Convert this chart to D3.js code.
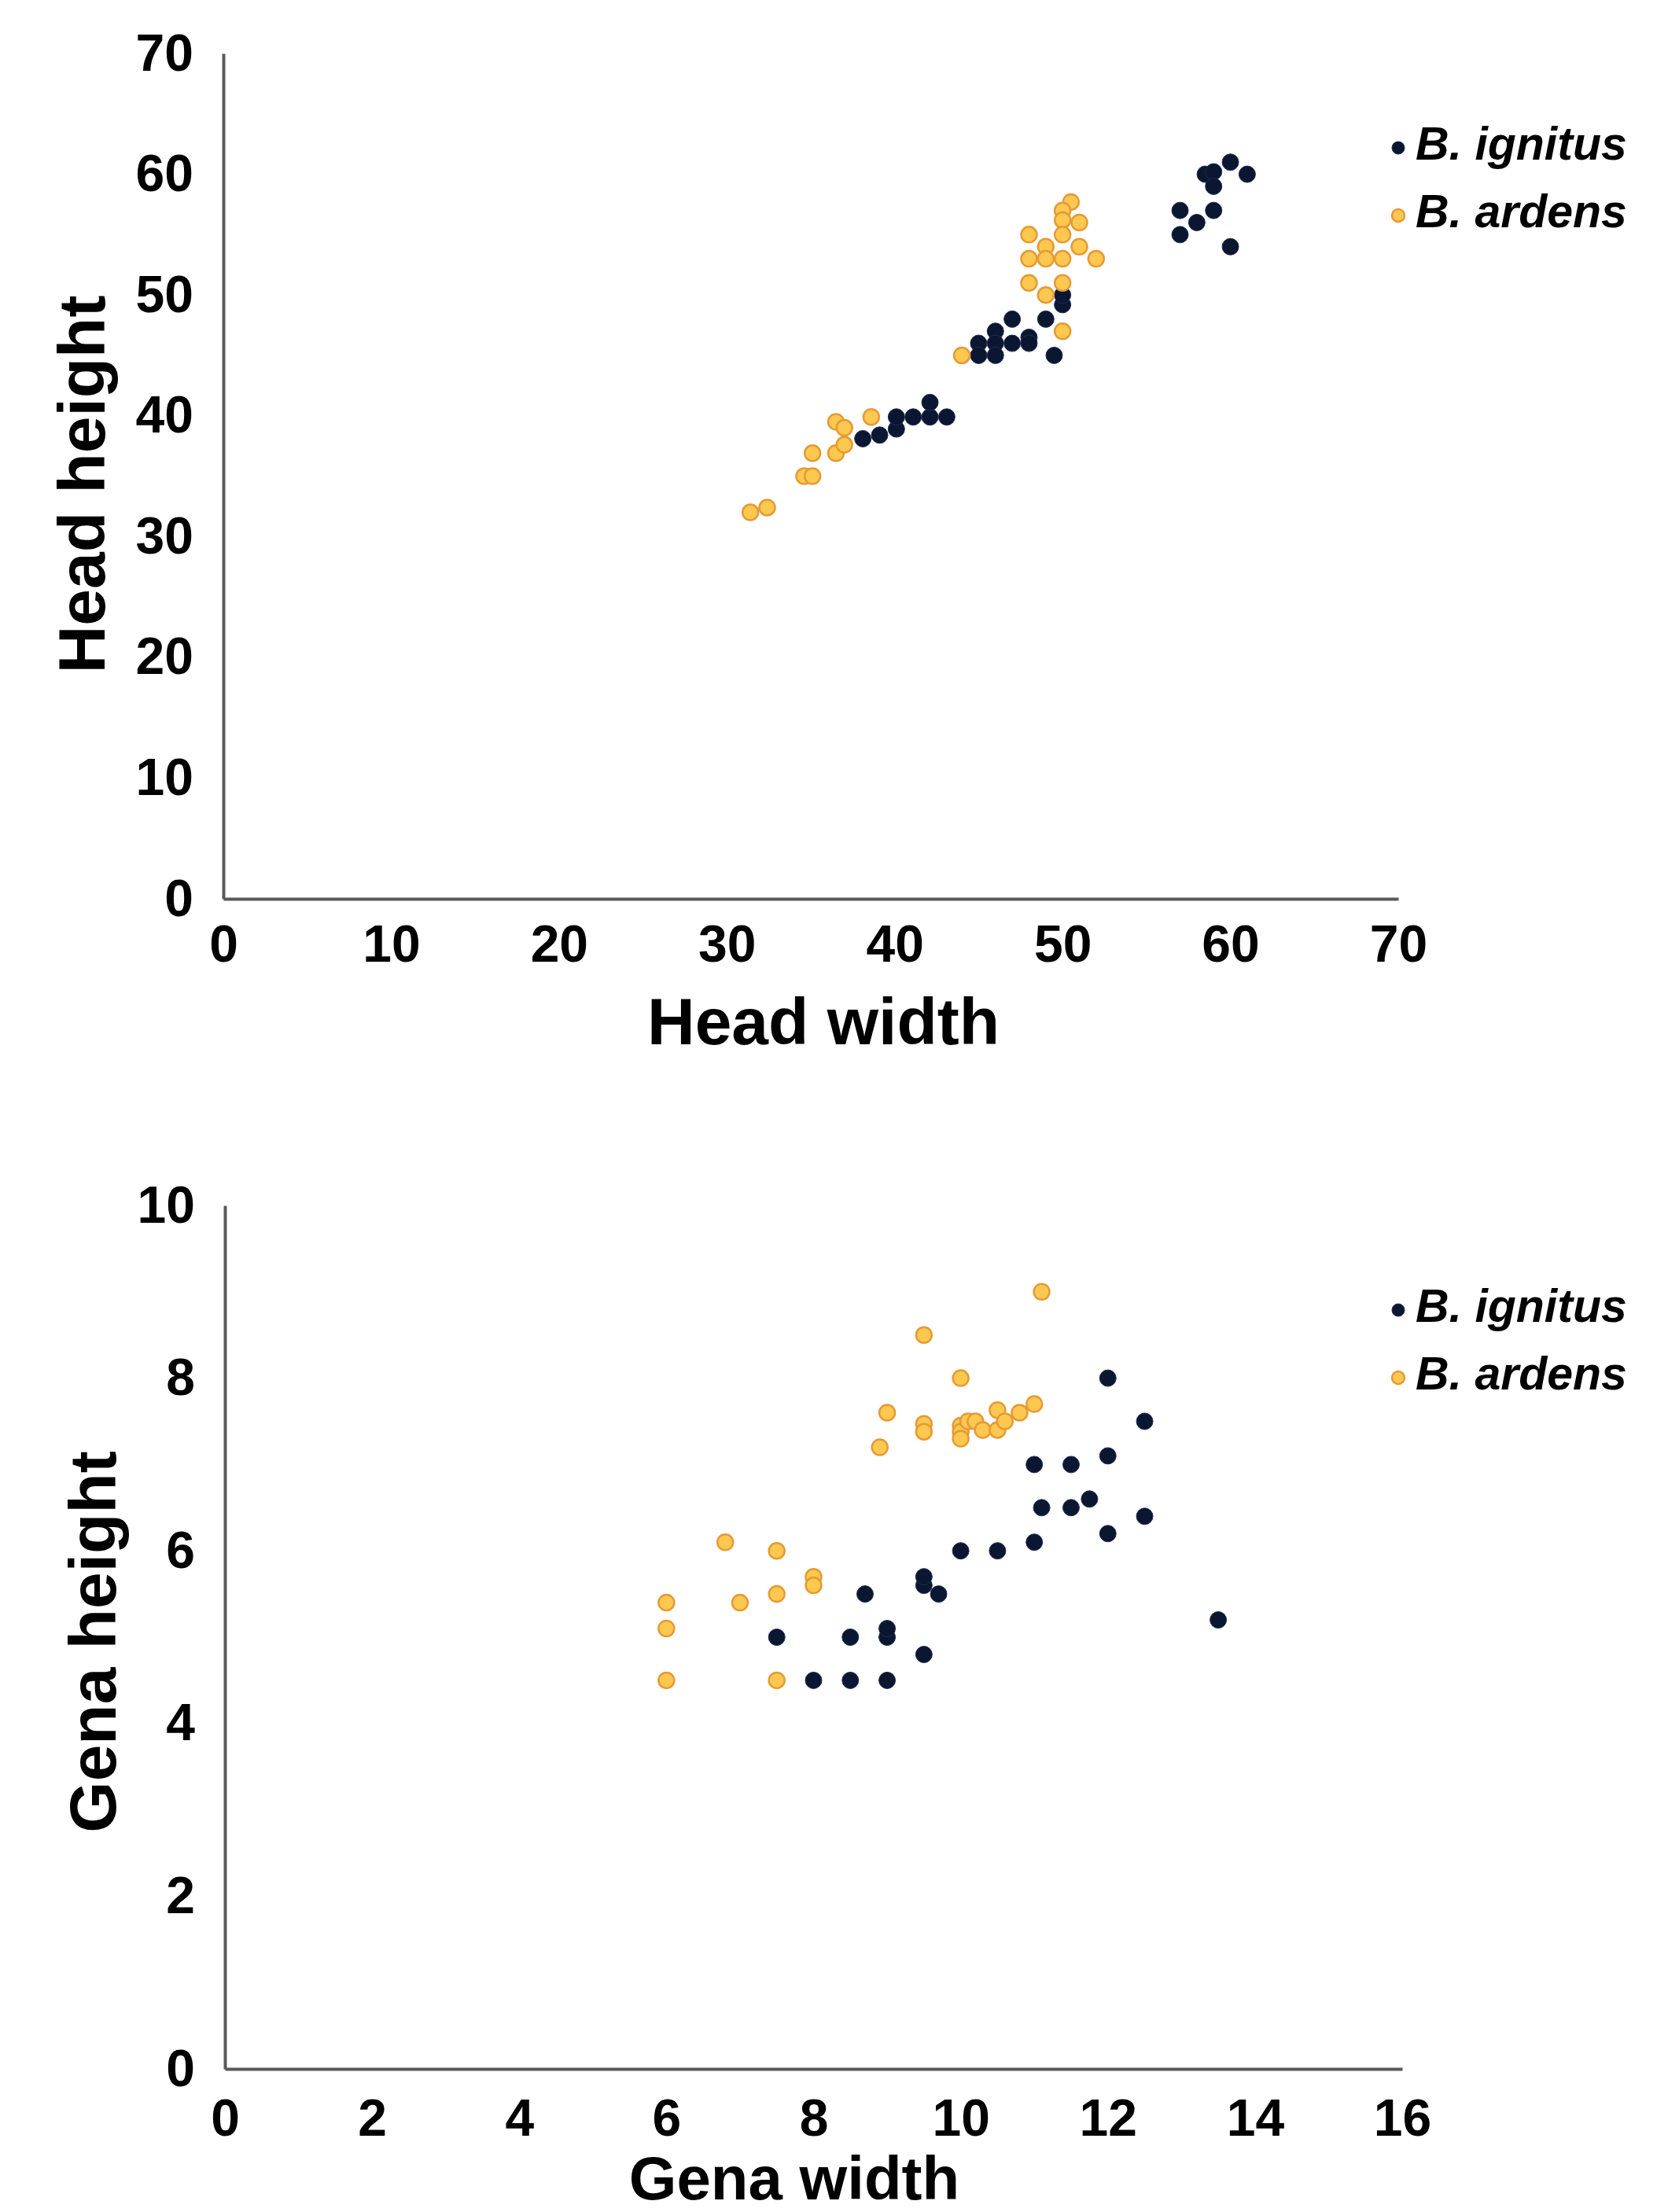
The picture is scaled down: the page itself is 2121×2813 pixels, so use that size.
<!DOCTYPE html>
<html>
<head>
<meta charset="utf-8">
<script src="https://cdn.jsdelivr.net/npm/d3@7"></script>
<style>
  body { margin: 0; background: #fff; }
  text { font-family: "Liberation Sans", Arial, sans-serif; font-weight: bold; fill: #000; }
</style>
</head>
<body>
<script>
    // head measurements [width, height]
    const headIgnitus = [
        [38.1, 38.1], [39.1, 38.4], [40.1, 38.9], [40.1, 39.9], [41.1, 39.9], [42.1, 39.9], [42.1, 41.1], [43.1, 39.9],
        [45, 46], [45, 45], [46, 47], [46, 46], [46, 45], [47, 48], [47, 46], [48, 46.5], [48, 46],
        [49, 48], [50, 49.2], [50, 50], [49.5, 45],
        [60, 61], [61, 60], [58.5, 60], [59, 60.2], [59, 59], [57, 57], [58, 56], [59, 57], [57, 55], [60, 54]
    ];
    const headArdens = [
        [31.4, 32], [32.4, 32.4], [34.6, 35], [35.1, 35], [35.1, 36.9], [36.5, 36.9], [37, 37.6], [36.5, 39.5],
        [37, 39], [38.6, 39.9],
        [44, 45], [48, 55], [48, 53], [48, 51], [49, 54], [49, 53], [49, 50], [50.5, 57.7], [50, 57],
        [50, 56.2], [51, 56], [50, 55], [50, 53], [51, 54], [52, 53], [50, 51], [50, 47]
    ];

    // gena measurements [width, height]
    const genaIgnitus = [
        [7.5, 5], [8, 4.5], [8.5, 4.5], [8.5, 5], [8.7, 5.5], [9, 4.5], [9, 5], [9, 5.1], [9.5, 4.8],
        [9.5, 5.6], [9.5, 5.7], [9.7, 5.5], [10, 6], [10.5, 6], [11, 6.1], [11, 7], [11.1, 6.5],
        [11.5, 7], [11.5, 6.5], [11.75, 6.6], [12, 6.2], [12, 7.1], [12, 8], [12.5, 7.5], [12.5, 6.4], [13.5, 5.2]
    ];
    const genaArdens = [
        [6, 5.4], [6, 5.1], [6, 4.5], [6.8, 6.1], [7, 5.4], [7.5, 6], [7.5, 5.5], [7.5, 4.5], [8, 5.7], [8, 5.6],
        [8.9, 7.2], [9, 7.6], [9.5, 8.5], [9.5, 7.47], [9.5, 7.38], [10, 8], [11.1, 9],
        [10, 7.45], [10, 7.38], [10, 7.3], [10.1, 7.5], [10.2, 7.5], [10.3, 7.4], [10.5, 7.63], [10.5, 7.4],
        [10.6, 7.5], [10.8, 7.6], [11, 7.7]
    ];

    const headTicks = [0, 10, 20, 30, 40, 50, 60, 70];
    const genaXTicks = [0, 2, 4, 6, 8, 10, 12, 14, 16];
    const genaYTicks = [0, 2, 4, 6, 8, 10];
    const species = ["B. ignitus", "B. ardens"];

    const svg = d3.select('body').append('svg')
        .attr('width', 2121)
        .attr('height', 2813);

    function drawPanel(cfg) {
        const xScale = d3.scaleLinear().domain(cfg.xDomain).range(cfg.xRange);
        const yScale = d3.scaleLinear().domain(cfg.yDomain).range(cfg.yRange);

        const g = svg.append('g');

        const xAxis = d3.axisBottom(xScale).tickValues(cfg.xTicks).tickSize(0).tickPadding(cfg.xPad);
        const yAxis = d3.axisLeft(yScale).tickValues(cfg.yTicks).tickSize(0).tickPadding(38);

        const xg = g.append('g')
            .attr('transform', `translate(0, ${cfg.yRange[0]})`)
            .call(xAxis);
        const yg = g.append('g')
            .attr('transform', `translate(${cfg.xRange[0]}, 0)`)
            .call(yAxis);

        [xg, yg].forEach(a => {
            a.attr('font-size', 66).attr('font-family', null);
            a.select('.domain').attr('stroke', '#595959').attr('stroke-width', 4);
            a.selectAll('text').attr('fill', '#000');
        });

        // points
        g.selectAll('.ign')
            .data(cfg.ignitus)
            .enter()
            .append('circle')
                .attr('cx', d => xScale(d[0]))
                .attr('cy', d => yScale(d[1]))
                .attr('r', 10.5)
                .attr('fill', '#0b1630')
                .attr('stroke', '#1c2c55')
                .attr('stroke-width', 1);

        g.selectAll('.ard')
            .data(cfg.ardens)
            .enter()
            .append('circle')
                .attr('cx', d => xScale(d[0]))
                .attr('cy', d => yScale(d[1]))
                .attr('r', 10)
                .attr('fill', '#fdc84f')
                .attr('stroke', '#e59a36')
                .attr('stroke-width', 2.5);

        // axis titles
        g.append('text')
            .attr('x', cfg.xTitle[0])
            .attr('y', cfg.xTitle[1])
            .attr('text-anchor', 'middle')
            .attr('font-size', cfg.xTitleSize)
            .text(cfg.xLabel);

        g.append('text')
            .attr('transform', `translate(${cfg.yTitle[0]}, ${cfg.yTitle[1]}) rotate(-90)`)
            .attr('text-anchor', 'middle')
            .attr('dy', '0.35em')
            .attr('font-size', 84)
            .text(cfg.yLabel);

        // legend
        const leg = g.append('g').attr('transform', `translate(1778, ${cfg.legendY})`);
        species.forEach((s, i) => {
            leg.append('circle')
                .attr('cx', 0)
                .attr('cy', i * 86 + 6)
                .attr('r', 8)
                .attr('fill', i === 0 ? '#0b1630' : '#fdc84f')
                .attr('stroke', i === 0 ? '#1c2c55' : '#e59a36')
                .attr('stroke-width', i === 0 ? 1 : 2.5);
            leg.append('text')
                .attr('x', 22)
                .attr('y', i * 86)
                .attr('dy', '0.35em')
                .attr('font-size', 59)
                .attr('font-style', 'italic')
                .text(s);
        });
    }

    drawPanel({
        xDomain: [0, 70], yDomain: [0, 70],
        xRange: [284, 1778], yRange: [1143, 68],
        xTicks: headTicks, yTicks: headTicks, xPad: 33,
        ignitus: headIgnitus, ardens: headArdens,
        xLabel: 'Head width', yLabel: 'Head height',
        xTitle: [1047, 1328], xTitleSize: 84, yTitle: [104, 616],
        legendY: 182
    });

    drawPanel({
        xDomain: [0, 16], yDomain: [0, 10],
        xRange: [286, 1783], yRange: [2631, 1533],
        xTicks: genaXTicks, yTicks: genaYTicks, xPad: 38,
        ignitus: genaIgnitus, ardens: genaArdens,
        xLabel: 'Gena width', yLabel: 'Gena height',
        xTitle: [1010, 2797], xTitleSize: 78, yTitle: [118, 2088],
        legendY: 1660
    });
</script>
</body>
</html>
